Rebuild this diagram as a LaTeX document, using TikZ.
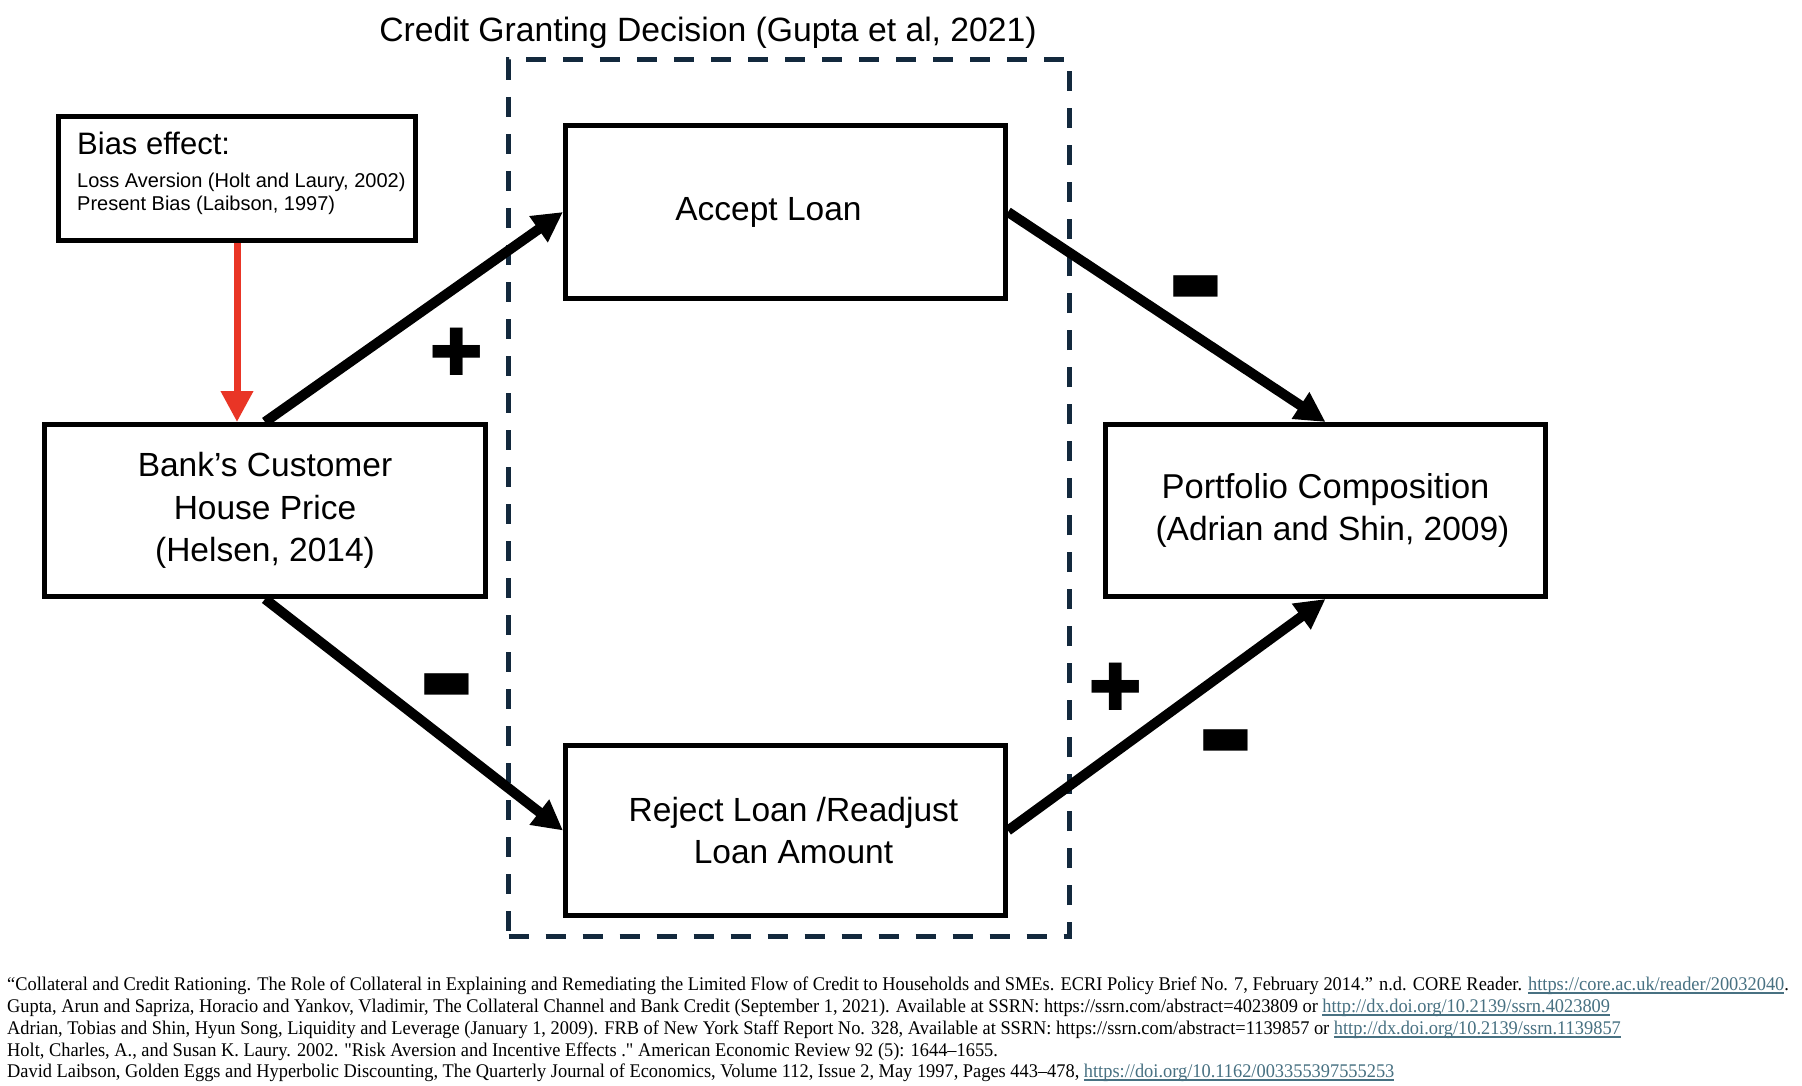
\documentclass[tikz,border=0pt]{standalone}
\usepackage{fontspec}
\setmainfont{Liberation Sans}
\newfontfamily\reffont[Ligatures=TeXOff,FakeStretch=0.95]{Liberation Serif}
\newfontfamily\symfont{DejaVu Sans}
\usetikzlibrary{arrows.meta}
\definecolor{dashc}{RGB}{19,41,61}
\definecolor{redc}{RGB}{233,53,38}
\definecolor{linkc}{RGB}{72,113,130}
\newcommand\reflink[1]{\setbox0\hbox{#1}\rlap{\color{linkc}\rule[-4pt]{\wd0}{2.4pt}}{\color{linkc}\box0}}
\begin{document}
\begin{tikzpicture}[x=1pt,y=-1pt,
  box/.style={draw, line width=5pt, inner sep=0pt, align=center, font=\fontsize{33.5}{42.5}\selectfont},
  conn/.style={line width=10pt, -{Triangle[length=30pt,width=30pt]}},
  redarrow/.style={draw=redc, line width=7pt, -{Triangle[length=31pt,width=31pt]}},
  plussign/.style={inner sep=0pt, font=\symfont\fontsize{65}{65}\selectfont},
  minussign/.style={inner sep=0pt, font=\symfont\fontsize{58}{58}\selectfont},
  reftext/.style={anchor=base west, inner sep=0pt, font=\reffont\fontsize{19.35}{22}\selectfont}]
\useasboundingbox (0,0) rectangle (1802,1086);
\fill[white] (0,0) rectangle (1802,1086);

% group frame and title
\node[draw=dashc, line width=5pt, dash pattern=on 20pt off 17pt, inner sep=0pt,
      minimum width=561pt, minimum height=876pt] (grp) at (789,498) {};
\node[anchor=base, inner sep=0pt, font=\fontsize{33.7}{40}\selectfont] (title) at (708,42)
  {Credit Granting Decision (Gupta et al, 2021)};

% bias box
\node[draw, line width=5pt, inner sep=0pt, minimum width=357pt, minimum height=124pt] (bias) at (237,178.5) {};
\node[anchor=base west, inner sep=0pt, font=\fontsize{31}{36}\selectfont] (biasT) at (77,154.5) {Bias effect:};
\node[anchor=base west, inner sep=0pt, font=\fontsize{20}{24}\selectfont] (biasA) at (77,187.5) {Loss Aversion (Holt and Laury, 2002)};
\node[anchor=base west, inner sep=0pt, font=\fontsize{20}{24}\selectfont] (biasB) at (77,210.5) {Present Bias (Laibson, 1997)};

% main boxes
\node[box, minimum width=441pt, minimum height=172pt] (bank) at (265,510.5)
  {Bank’s Customer\\House Price\\(Helsen, 2014)};
\node[box, minimum width=440pt, minimum height=173pt] (accept) at (785.5,212)
  {Accept Loan\kern34pt};
\node[box, minimum width=440pt, minimum height=170pt] (reject) at (785.5,830.5)
  {\kern16pt Reject Loan /Readjust\\\kern16pt Loan Amount};
\node[box, minimum width=440pt, minimum height=172pt, font=\fontsize{34.5}{42.5}\selectfont] (port) at (1325.5,510.5)
  {Portfolio Composition\\\kern14pt{\fontsize{33.5}{42.5}\selectfont(Adrian and Shin, 2009)}};

% connectors
\draw[redarrow] (bias.south) -- (bias.south |- bank.north);
\draw[conn] (bank.north) -- (accept.west);
\draw[conn] (accept.east) -- (port.north);
\draw[conn] (bank.south) -- (reject.west);
\draw[conn] (reject.east) -- (port.south);

% signs
\node[plussign] (p1) at (457,352) {✚};
\node[minussign] (m1) at (1196,289) {▬};
\node[minussign] (m2) at (447,687) {▬};
\node[plussign] (p2) at (1116,687) {✚};
\node[minussign] (m3) at (1226,743) {▬};

% references
\node[reftext] (r1) at (7,990) {“Collateral and Credit Rationing. The Role of Collateral in Explaining and Remediating the Limited Flow of Credit to Households and SMEs. ECRI Policy Brief No. 7, February 2014.” n.d. CORE Reader. \reflink{https://core.ac.uk/reader/20032040}.};
\node[reftext] (r2) at (7,1012) {Gupta, Arun and Sapriza, Horacio and Yankov, Vladimir, The Collateral Channel and Bank Credit (September 1, 2021). Available at SSRN: https://ssrn.com/abstract=4023809 or \reflink{http://dx.doi.org/10.2139/ssrn.4023809}};
\node[reftext] (r3) at (7,1034) {Adrian, Tobias and Shin, Hyun Song, Liquidity and Leverage (January 1, 2009). FRB of New York Staff Report No. 328, Available at SSRN: https://ssrn.com/abstract=1139857 or \reflink{http://dx.doi.org/10.2139/ssrn.1139857}};
\node[reftext] (r4) at (7,1056) {Holt, Charles, A., and Susan K. Laury. 2002. "Risk Aversion and Incentive Effects ." American Economic Review 92 (5): 1644–1655.};
\node[reftext] (r5) at (7,1077) {David Laibson, Golden Eggs and Hyperbolic Discounting, The Quarterly Journal of Economics, Volume 112, Issue 2, May 1997, Pages 443–478, \reflink{https://doi.org/10.1162/003355397555253}};
\end{tikzpicture}
\end{document}
